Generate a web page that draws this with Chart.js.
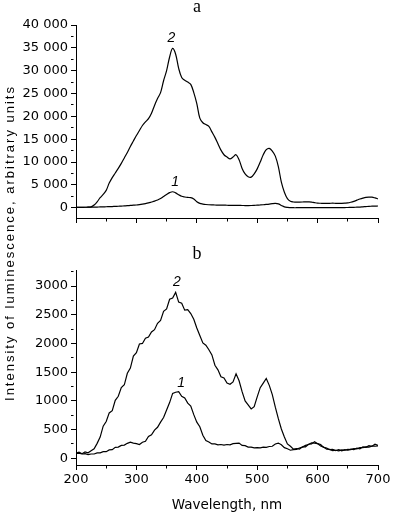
<!DOCTYPE html>
<html>
<head>
<meta charset="utf-8">
<script src="https://cdn.jsdelivr.net/npm/chart.js@4.4.0/dist/chart.umd.min.js"></script>
<style>
body{margin:0;background:#fff;}
#wrap{position:relative;width:394px;height:515px;}
canvas{position:absolute;left:0;top:0;}
</style>
</head>
<body>
<div id="wrap">
<canvas id="chartA" width="394" height="515"></canvas>
<canvas id="chartB" width="394" height="515"></canvas>
</div>
<script>
// wavelength, nm
const wavelengths = [200,205,210,215,220,225,230,235,240,245,250,255,260,265,270,275,280,285,290,295,
  300,305,310,315,320,325,330,335,340,345,350,355,360,365,370,375,380,385,390,395,
  400,405,410,415,420,425,430,435,440,445,450,455,460,465,470,475,480,485,490,495,
  500,505,510,515,520,525,530,535,540,545,550,555,560,565,570,575,580,585,590,595,
  600,605,610,615,620,625,630,635,640,645,650,655,660,665,670,675,680,685,690,695,700];

// panel a, curve 1
const a1 = [70,80,90,100,110,120,140,150,170,190,210,230,260,290,320,360,400,440,500,550,
  600,680,780,900,1050,1250,1450,1700,2000,2450,2900,3300,3500,3250,2850,2500,2350,2250,2200,1900,
  1300,950,800,700,650,620,600,580,570,560,540,530,520,510,500,490,480,480,490,520,
  560,600,650,720,800,900,950,850,500,200,80,30,0,0,0,0,0,0,0,0,
  0,0,0,0,0,0,10,20,30,40,50,70,90,120,150,200,250,300,330,360,380];
// panel a, curve 2
const a2 = [100,100,100,100,110,180,590,1300,2200,2900,3800,5400,6600,7600,8600,9700,10900,12100,13400,14600,
  15800,16900,18000,18800,19500,20700,22400,23900,25200,27800,30000,33000,34900,33600,30500,28500,27900,27500,27000,25200,
  22800,19600,18600,18200,17800,16600,15400,14000,12600,11600,11100,10700,11100,11600,10500,8600,7400,6800,6700,7400,
  8500,10000,11600,12700,13000,12400,11300,9000,5600,3400,2000,1400,1250,1240,1240,1250,1280,1270,1230,1100,
  1000,980,960,960,970,1000,960,960,970,1000,1050,1200,1400,1650,1900,2100,2250,2300,2300,2150,1950];

// panel b, curve 1
const b1 = [80,90,75,80,65,75,75,95,95,115,115,145,150,190,195,225,230,260,280,265,
  255,240,280,295,380,410,490,540,630,710,840,970,1130,1150,1160,1080,1050,960,910,760,
  630,550,400,310,285,250,250,235,240,230,240,235,255,260,265,225,220,195,195,180,
  185,180,195,190,205,210,250,265,235,185,165,140,150,155,180,195,225,240,270,265,
  255,215,195,160,155,135,140,130,145,140,155,150,170,165,185,185,200,195,210,210,215];
// panel b, curve 2
const b2 = [90,105,80,110,95,130,165,260,370,560,640,790,830,1010,1080,1230,1280,1480,1570,1780,
  1840,1990,2000,2090,2110,2200,2240,2350,2400,2560,2600,2770,2790,2890,2720,2700,2580,2590,2520,2420,
  2270,2140,2010,1970,1890,1800,1620,1540,1420,1400,1310,1290,1330,1470,1350,1160,1000,930,860,900,
  1070,1230,1310,1390,1270,1110,890,690,510,370,250,210,160,170,160,200,200,245,250,290,
  255,240,190,180,150,155,135,150,130,150,140,160,150,175,165,200,190,220,210,245,225];

// tick positions (major + minor) and labels
const xTickVals = [200,250,300,350,400,450,500,550,600,650,700];
const xLabels = ['200','300','400','500','600','700'];
const yTickValsA = [0,2500,5000,7500,10000,12500,15000,17500,20000,22500,25000,27500,30000,32500,35000,37500,40000];
const yLabelsA = ['0','5 000','10 000','15 000','20 000','25 000','30 000','35 000','40 000'];
const yTickValsB = [0,250,500,750,1000,1250,1500,1750,2000,2250,2500,2750,3000,3250];
const yLabelsB = ['0','500','1000','1500','2000','2500','3000'];

function pts(arr){
  return wavelengths.map((w,i)=>({x:w,y:arr[i]}));
}
function setTicks(vals){
  return s => { s.ticks = vals.map(v=>({value:v})); };
}
// minor ticks: only the first bit of the tick line is drawn
function minorDash(step){
  return c => (c.tick && c.tick.value % step !== 0) ? [2.5, 20] : [];
}
function axisGrid(step){
  return {drawOnChartArea:false, tickLength:5, color:'#000', tickBorderDash:minorDash(step)};
}

// curve numbers and the shared y title
const annotate = {
  id:'annotate',
  afterDatasetsDraw(chart, args, opts){
    const ctx = chart.ctx;
    const xs = chart.scales.x, ys = chart.scales.y;
    ctx.save();
    ctx.fillStyle = '#000';
    ctx.font = 'italic 14px "Liberation Sans"';
    ctx.textAlign = 'center';
    ctx.textBaseline = 'middle';
    (opts.marks||[]).forEach(m=>{
      ctx.fillText(m.text, xs.getPixelForValue(m.x), ys.getPixelForValue(m.y));
    });
    if (opts.yTitle){
      ctx.translate(opts.yTitle.x, opts.yTitle.y);
      ctx.rotate(-Math.PI/2);
      ctx.font = '13px "Liberation Sans"';
      if ('letterSpacing' in ctx) ctx.letterSpacing = '2px';
      ctx.fillText(opts.yTitle.text, 0, 0);
    }
    ctx.restore();
  }
};

function lineSet(arr, tension){
  return {data:pts(arr), borderColor:'#000', borderWidth:1.2, pointRadius:0, fill:false, tension:tension};
}

const tickFont = {family:'"DejaVu Sans"', size:13};
const titleFont = {family:'"Liberation Serif"', size:18, weight:'normal', lineHeight:0.6};

new Chart(document.getElementById('chartA'), {
  type:'line',
  data:{datasets:[lineSet(a1,0.35), lineSet(a2,0.35)]},
  options:{
    responsive:false, animation:false, devicePixelRatio:1,
    layout:{padding:{left:16,right:16,top:2,bottom:291}},
    plugins:{
      legend:{display:false}, tooltip:{enabled:false},
      title:{display:true, text:'a', color:'#000', font:titleFont, padding:{top:0,bottom:12.2}},
      annotate:{marks:[{text:'2',x:358,y:37150},{text:'1',x:364,y:5625}]}
    },
    scales:{
      x:{type:'linear', min:200, max:700,
        border:{color:'#000'},
        grid:axisGrid(100),
        ticks:{autoSkip:false, maxRotation:0, callback:()=>''},
        afterBuildTicks:setTicks(xTickVals),
        afterFit:s=>{s.height=6;}},
      y:{min:-2250, max:40000,
        border:{color:'#000'},
        grid:axisGrid(5000),
        ticks:{autoSkip:false, padding:3, color:'#000', font:tickFont,
          callback:v=> v%5000===0 ? yLabelsA[v/5000] : ''},
        afterBuildTicks:setTicks(yTickValsA),
        afterFit:s=>{s.width=60;}}
    }
  },
  plugins:[annotate]
});

new Chart(document.getElementById('chartB'), {
  type:'line',
  data:{datasets:[lineSet(b1,0), lineSet(b2,0)]},
  options:{
    responsive:false, animation:false, devicePixelRatio:1,
    layout:{padding:{left:16,right:16,top:249,bottom:0}},
    plugins:{
      legend:{display:false}, tooltip:{enabled:false},
      title:{display:true, text:'b', color:'#000', font:titleFont, padding:{top:0,bottom:10.9}},
      annotate:{
        marks:[{text:'2',x:367,y:3061},{text:'1',x:374,y:1302}],
        yTitle:{text:'Intensity of luminescence, arbitrary units', x:10, y:243}
      }
    },
    scales:{
      x:{type:'linear', min:200, max:700,
        border:{color:'#000'},
        grid:axisGrid(100),
        ticks:{autoSkip:false, maxRotation:0, padding:2, color:'#000', font:tickFont,
          callback:v=> v%100===0 ? xLabels[(v-200)/100] : ''},
        afterBuildTicks:setTicks(xTickVals),
        title:{display:true, text:'Wavelength, nm', color:'#000', font:{family:'"DejaVu Sans"', size:13.5}, padding:{top:0,bottom:1}},
        afterFit:s=>{s.height=50;}},
      y:{min:-117, max:3267,
        border:{color:'#000'},
        grid:axisGrid(500),
        ticks:{autoSkip:false, padding:3, color:'#000', font:tickFont,
          callback:v=> v%500===0 ? yLabelsB[v/500] : ''},
        afterBuildTicks:setTicks(yTickValsB),
        afterFit:s=>{s.width=60;}}
    }
  },
  plugins:[annotate]
});
</script>
</body>
</html>
